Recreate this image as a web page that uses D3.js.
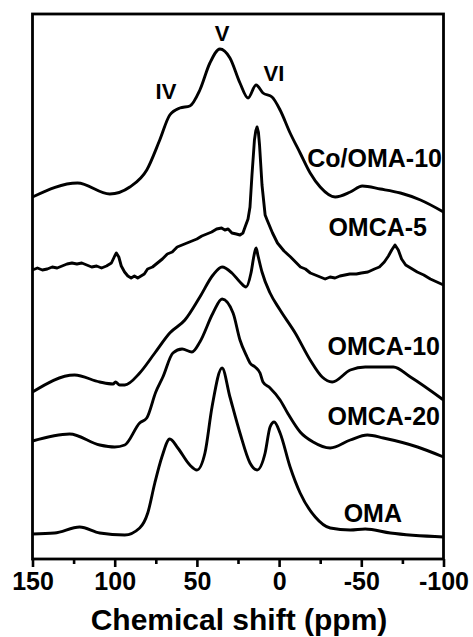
<!DOCTYPE html>
<html>
<head>
<meta charset="UTF-8">
<script src="https://cdn.jsdelivr.net/npm/d3@7"></script>
<title>13C NMR</title>
<style>
    body { margin: 0; background: #fff; }
    text { font-family: 'Liberation Sans', Arial, sans-serif; font-weight: bold; fill: #000; }
</style>
</head>
<body>
<div id="chart"></div>
<script>
// chemical shift (ppm) and intensity (a.u., curves already stacked)
const coOma10 = [
    [150, 362], [122.6, 376], [103, 365], [90.8, 372], [80.5, 389], [72.6, 419], [66.5, 444],
    [60.4, 451], [54.3, 453], [48.2, 469], [42.1, 496], [36, 510], [29.9, 501], [23.8, 476],
    [18.9, 461], [14, 474], [9.8, 466], [4.3, 462], [-0.6, 449], [-6.7, 426], [-12.8, 406],
    [-18.9, 386], [-25, 372], [-34.1, 362], [-43.3, 367], [-50.6, 373], [-61.6, 370],
    [-73.8, 366], [-86, 359], [-100, 347]
];
const omca5 = [
    [150, 289], [147, 291], [144, 289], [141, 290], [138, 292], [135, 291], [132, 293], [129, 295],
    [126, 296], [123, 295], [120, 296], [117, 294], [114, 292], [111, 293], [108, 291], [105, 293],
    [102, 296], [100, 303], [99, 306], [97.5, 302], [96, 293], [94, 287], [92, 283], [90, 281],
    [88, 283], [86, 281], [84, 283], [82, 285], [80, 290], [77, 292], [74, 296], [71, 300],
    [68, 305], [65, 307], [62, 312], [59, 314], [56, 316], [53, 318], [50, 320], [47, 323],
    [44, 325], [41, 327], [38, 330], [35, 331], [33, 329], [31, 330], [28.7, 326], [26, 325],
    [23.8, 324], [22, 326], [20.7, 332], [18.9, 340], [17.7, 352], [16.5, 384], [15, 419],
    [14.2, 428], [13.4, 432], [12.6, 427], [11.9, 414], [10.4, 374], [8.5, 344], [7.3, 339],
    [4, 326], [1, 316], [-3, 308], [-7, 302], [-10, 297], [-13, 292], [-16, 290], [-19, 286],
    [-22, 284], [-25, 282], [-28, 280], [-31, 282], [-34, 281], [-37, 283], [-40, 284],
    [-43, 285], [-47, 285], [-50, 286], [-54, 287], [-58, 290], [-61, 292], [-64, 297],
    [-66.5, 303], [-68.5, 309], [-70.5, 314], [-72.5, 309], [-74.5, 300], [-77, 294], [-80, 291],
    [-84, 287], [-88, 284], [-92, 280], [-96, 277], [-100, 274]
];
const omca10 = [
    [150, 167], [124.4, 184], [109.1, 177], [101, 175], [99.5, 177], [97, 174], [93.9, 174],
    [84.8, 186], [75.6, 206], [66.5, 226], [57.3, 239], [48.2, 262], [40.2, 284], [34.7, 292],
    [28.7, 286], [23.8, 277], [20.1, 272], [17.1, 286], [15.2, 304], [14, 311], [12.8, 303],
    [10.4, 287], [5.5, 266], [-0.6, 249], [-9.8, 226], [-18.9, 199], [-26.2, 182], [-32.3, 177],
    [-43.3, 189], [-52.4, 192], [-69.5, 192], [-79.9, 182], [-100, 159]
];
const omca20 = [
    [150, 118], [127.4, 125], [109.1, 114], [100, 112], [93.9, 114], [84.8, 136], [80.5, 141],
    [75, 167], [70.7, 182], [64.6, 206], [59, 210], [53, 207], [48.2, 217], [40.2, 246],
    [34.7, 260], [28, 246], [23.8, 219], [19.5, 202], [17.7, 196], [14.6, 192], [11.6, 186],
    [9.8, 177], [5.5, 171], [-0.6, 159], [-5.5, 145], [-12.8, 127], [-20.7, 117], [-31.1, 111],
    [-43.3, 119], [-53.7, 124], [-63.4, 121], [-84.2, 112], [-100, 102]
];
const oma = [
    [150, 25], [136.6, 26], [121.3, 32], [109.1, 26], [93.9, 24], [84.8, 31], [79.9, 46],
    [75.6, 76], [71.3, 102], [66.5, 120], [61.6, 111], [54.3, 94], [50, 89], [45.1, 106],
    [40.8, 152], [34.7, 191], [29.9, 162], [23.8, 126], [17.7, 96], [13.4, 89], [8.5, 106],
    [5.5, 132], [3, 137], [-0.6, 126], [-6.7, 92], [-12.8, 66], [-22, 42], [-31.1, 31],
    [-43.3, 29], [-52.4, 30], [-67.7, 26], [-100, 22]
];
const seriesNames = ["Co/OMA-10", "OMCA-5", "OMCA-10", "OMCA-20", "OMA"];
const seriesData = [coOma10, omca5, omca10, omca20, oma];
const peakLabels = ["IV", "V", "VI"];
const majorTicks = [150, 100, 50, 0, -50, -100];
const minorTicks = [125, 75, 25, -25, -75];

const width = 473, height = 637;
const margin = {top: 14, right: 29.5, bottom: 78, left: 32.5};

const svg = d3.select("#chart").append("svg")
    .attr("width", width)
    .attr("height", height);

const x = d3.scaleLinear().domain([150, -100]).range([margin.left, width - margin.right]);
const y = d3.scaleLinear().domain([0, 545]).range([height - margin.bottom, margin.top]);

const line = d3.line()
    .x(d => x(d[0]))
    .y(d => y(d[1]))
    .curve(d3.curveMonotoneX);
const roughLine = d3.line()
    .x(d => x(d[0]))
    .y(d => y(d[1]));

// spectra
svg.selectAll("path.spec")
    .data(seriesData)
    .enter()
    .append("path")
    .attr("class", "spec")
    .attr("d", (d, i) => i == 1 ? roughLine(d) : line(d))
    .attr("fill", "none")
    .attr("stroke", "#000")
    .attr("stroke-width", 2.9)
    .attr("stroke-linejoin", "round");

// frame
svg.append("rect")
    .attr("x", x(150))
    .attr("y", y(545))
    .attr("width", x(-100) - x(150))
    .attr("height", y(0) - y(545))
    .attr("fill", "none")
    .attr("stroke", "#000")
    .attr("stroke-width", 2.8);

// axes
const xAxis = svg.append("g")
    .attr("transform", `translate(0,${y(0)})`)
    .call(d3.axisBottom(x).tickValues(majorTicks).tickSize(8).tickSizeOuter(0).tickPadding(5)
        .tickFormat(d => String(d)));
svg.append("g")
    .attr("transform", `translate(0,${y(0)})`)
    .call(d3.axisBottom(x).tickValues(minorTicks).tickSize(5).tickSizeOuter(0).tickFormat(""));
svg.selectAll(".domain").remove();
svg.selectAll(".tick line").attr("stroke", "#000").attr("stroke-width", 2.6);
xAxis.selectAll("text")
    .style("font-family", "'Liberation Sans', Arial, sans-serif")
    .style("font-weight", "bold")
    .style("font-size", "25px")
    .attr("fill", "#000");

svg.append("text")
    .attr("x", 239)
    .attr("y", 630)
    .attr("text-anchor", "middle")
    .style("font-size", "30px")
    .text("Chemical shift (ppm)");

// sample labels
const labelPos = [[442, 167], [427, 236], [440, 355], [440, 425], [402, 522]];
svg.selectAll("text.name")
    .data(seriesNames)
    .enter()
    .append("text")
    .attr("class", "name")
    .attr("x", (d, i) => labelPos[i][0])
    .attr("y", (d, i) => labelPos[i][1])
    .attr("text-anchor", "end")
    .style("font-size", "25px")
    .text(d => d);

// peak labels
const peakPos = [[166, 99], [222, 41], [274, 81]];
svg.selectAll("text.peak")
    .data(peakLabels)
    .enter()
    .append("text")
    .attr("class", "peak")
    .attr("x", (d, i) => peakPos[i][0])
    .attr("y", (d, i) => peakPos[i][1])
    .attr("text-anchor", "middle")
    .style("font-size", "22px")
    .text(d => d);
</script>
</body>
</html>
